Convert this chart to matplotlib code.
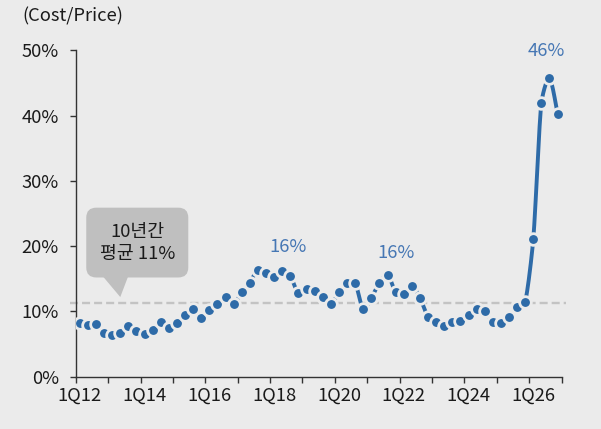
import numpy as np
import matplotlib
matplotlib.use("Agg")
import matplotlib.pyplot as plt
from matplotlib.patches import FancyBboxPatch, Polygon
from matplotlib.transforms import IdentityTransform

plt.rcParams["font.family"] = ["Noto Sans CJK KR", "DejaVu Sans"]

# quarterly cost/price ratio, 1Q12 .. 4Q26 (%)
ratio = [8.2, 7.9, 8.0, 6.7, 6.4, 6.7, 7.7, 7.0, 6.6, 7.2, 8.4, 7.4, 8.2, 9.4,
         10.3, 9.0, 10.2, 11.1, 12.2, 11.1, 13.0, 14.4, 16.4, 15.9, 15.3, 16.2, 15.4, 12.8,
         13.5, 13.2, 12.2, 11.2, 12.9, 14.4, 14.35, 10.3, 12.1, 14.35, 15.6, 13.0, 12.6, 13.9, 12.1,
         9.2, 8.4, 7.7, 8.4, 8.55, 9.4, 10.3, 10.1, 8.4, 8.2, 9.1, 10.6, 11.45,
         21.1, 42.0, 45.7, 40.3]
tick_labels = ["1Q12", "1Q14", "1Q16", "1Q18", "1Q20", "1Q22", "1Q24", "1Q26"]
avg_10y = 11.3
# point index -> (label, offset in points)
labeled = {25: ("16%", (4.5, 17)), 38: ("16%", (6, 16)), 58: ("46%", (-2.6, 19.5))}

BG = "#ebebeb"
BLUE = "#2e6ba8"
LABEL_BLUE = "#4677b4"
TXT = "#1a1a1a"
FS = 13.2


def smooth(x, y, sx, sy, n=24):
    # bezier smoothing like a spreadsheet "smoothed line", control arms clamped
    pts = np.column_stack([np.asarray(x) * sx, np.asarray(y) * sy])
    pad = np.vstack([pts[0], pts, pts[-1]])
    t = np.linspace(0, 1, n)[:, None]
    out = []
    for i in range(len(pts) - 1):
        p0, p1, p2, p3 = pad[i], pad[i + 1], pad[i + 2], pad[i + 3]
        seg = np.linalg.norm(p2 - p1)
        d1 = (p2 - p0) / 6
        d2 = (p3 - p1) / 6
        for d in (d1, d2):
            L = np.linalg.norm(d)
            if L > seg * 0.22:
                d *= (seg * 0.22) / L
        c1 = p1 + d1
        c2 = p2 - d2
        b = (1 - t) ** 3 * p1 + 3 * (1 - t) ** 2 * t * c1 + 3 * (1 - t) * t ** 2 * c2 + t ** 3 * p2
        out.append(b if i == 0 else b[1:])
    out = np.vstack(out)
    return out[:, 0] / sx, out[:, 1] / sy


fig = plt.figure(figsize=(6.01, 4.29), dpi=100, facecolor=BG)
ax = fig.add_axes([0.126, 0.122, 0.8085, 0.7605], facecolor=BG)

n = len(ratio)
xs = np.arange(n) + 0.5
ax.set_xlim(0, 60)
ax.set_ylim(0, 50)

# average line
ax.plot([-0.7, 60.6], [avg_10y, avg_10y], color="#c3c3c3", lw=1.7,
        dashes=(3.4, 1.7), clip_on=False, zorder=1)

sx_, sy_ = smooth(xs, ratio, 8.1, 6.55)
ax.plot(sx_, sy_, color=BLUE, lw=2.8, solid_capstyle="butt", zorder=2)
ax.plot(xs, ratio, linestyle="none", marker="o", ms=8.4, mfc=BLUE, mec=BG,
        mew=2.0, zorder=3)

for i, (txt, off) in labeled.items():
    ax.annotate(txt, (xs[i], ratio[i]), xytext=off, textcoords="offset points",
                ha="center", va="center", color=LABEL_BLUE, fontsize=FS)

# axes styling
for s in ["top", "right"]:
    ax.spines[s].set_visible(False)
for s in ["left", "bottom"]:
    ax.spines[s].set_color("#333333")
    ax.spines[s].set_linewidth(1.0)

ax.set_yticks(np.arange(0, 51, 10))
ax.set_yticklabels([f"{v}%" for v in range(0, 51, 10)])
ax.tick_params(axis="y", length=4, width=1.0, color="#333333", pad=8,
               labelsize=FS, labelcolor=TXT)

ax.set_xticks(np.arange(0, 61, 4))
ax.set_xticklabels([])
ax.tick_params(axis="x", which="major", length=4, width=1.0, color="#333333")
ax.set_xticks(np.arange(0, 60, 8) + 0.5, minor=True)
ax.set_xticklabels(tick_labels, minor=True)
ax.tick_params(axis="x", which="minor", length=0, pad=7, labelsize=FS, labelcolor=TXT)

fig.text(22 / 601, 1 - 16 / 429, "(Cost/Price)", ha="left", va="center",
         fontsize=FS, color=TXT)

# callout box
to_disp = ax.transData.transform
(bx0, by0) = to_disp((1.3, 15.2))
(bx1, by1) = to_disp((13.9, 25.9))
box = FancyBboxPatch((bx0, by0), bx1 - bx0, by1 - by0,
                     boxstyle="round,pad=0,rounding_size=10",
                     transform=IdentityTransform(),
                     facecolor="#bfbfbf", edgecolor="none", zorder=4)
ax.add_patch(box)
tri = Polygon([(3.4, 15.3), (6.45, 15.3), (5.5, 12.2)], closed=True,
              facecolor="#bfbfbf", edgecolor="none", zorder=4)
ax.add_patch(tri)
ax.text(7.6, 20.45, "10년간\n평균 11%", ha="center", va="center", fontsize=FS,
        color=TXT, linespacing=1.25, zorder=5)

fig.savefig("out.png", dpi=100, facecolor=BG)
